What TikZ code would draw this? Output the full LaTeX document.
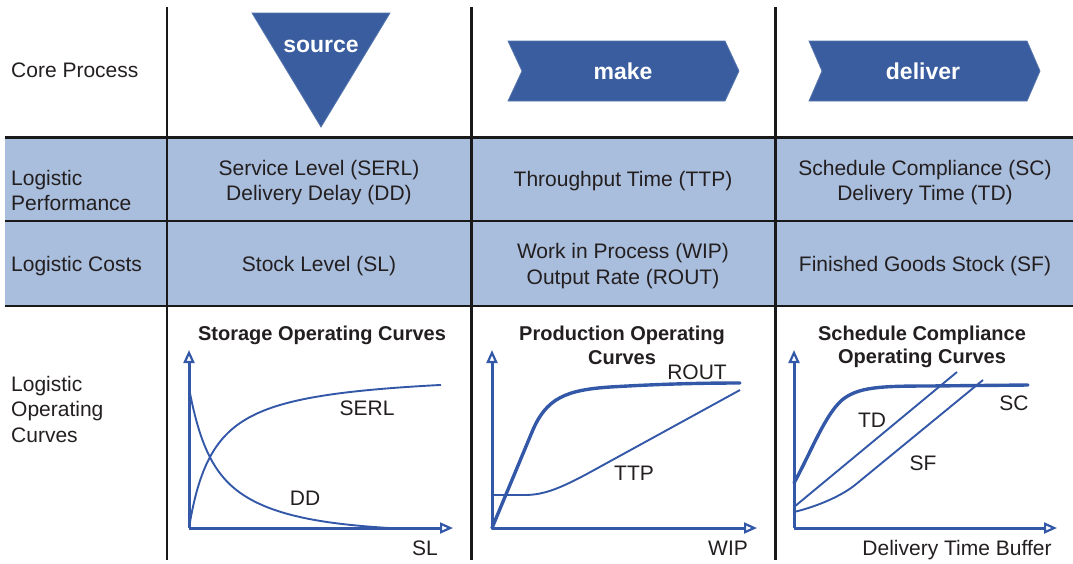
\documentclass[tikz,border=0pt]{standalone}
\usepackage{fontspec}
\setmainfont{Liberation Sans}
\usetikzlibrary{arrows.meta}
\definecolor{ink}{RGB}{35,31,32}
\definecolor{band}{RGB}{169,189,220}
\definecolor{procblue}{RGB}{57,93,158}
\definecolor{curveblue}{RGB}{52,88,168}

\begin{document}
\begin{tikzpicture}[x=1pt,y=-1pt,
  rule/.style={line width=2.4pt, draw=black!90},
  lbl/.style={font=\fontsize{21}{25}\selectfont, text=ink, inner sep=0pt, anchor=base},
  lblw/.style={lbl, anchor=base west},
  ttl/.style={font=\bfseries\fontsize{20}{24}\selectfont, text=ink, inner sep=0pt, anchor=base},
  proc/.style={fill=procblue, draw=procblue!85!white, line width=0.8pt},
  proctxt/.style={font=\bfseries\fontsize{23}{27}\selectfont, text=white, inner sep=0pt, anchor=base},
  axis/.style={draw=curveblue, line width=3pt, -{Triangle[open,length=13pt,width=11pt,line width=2.2pt]}},
  curvethin/.style={draw=curveblue, line width=1.9pt},
  curvethick/.style={draw=curveblue, line width=3.4pt, line cap=round},
]
\useasboundingbox (0,0) rectangle (1073,563);

% shaded rows for performance and costs
\fill[band] (5,138) rectangle (1073,306);

% table rules
\draw[rule] (5,137.5) -- (1073,137.5);
\draw[rule] (5,221) -- (1073,221);
\draw[rule] (5,306) -- (1073,306);
\foreach \cx in {167,471.5,775.5} \draw[rule] (\cx,7) -- (\cx,560);

% core process symbols
\path[proc] (252,13) -- (390,13) -- (321,127) -- cycle;
\node[proctxt] (src) at (321,52) {source};
\path[proc] (508,41) -- (725,41) -- (739,71) -- (725,101) -- (508,101) -- (522,71) -- cycle;
\node[proctxt] (mk) at (623,79) {make};
\path[proc] (809,41) -- (1027,41) -- (1040,71) -- (1027,101) -- (809,101) -- (822,71) -- cycle;
\node[proctxt] (dl) at (923,79) {deliver};

% row headings
\node[lblw] (core) at (11,77) {Core Process};
\node[lblw] (perfa) at (11,185) {Logistic};
\node[lblw] (perfb) at (11,210.5) {Performance};
\node[lblw] (cost) at (11,271.5) {Logistic Costs};
\node[lblw] (loca) at (11,391) {Logistic};
\node[lblw] (locb) at (11,416.5) {Operating};
\node[lblw] (locc) at (11,442.5) {Curves};

% table entries
\node[lbl] (serl) at (319,175) {Service Level (SERL)};
\node[lbl] (dd) at (319,200) {Delivery Delay (DD)};
\node[lbl] (sl) at (319,271.5) {Stock Level (SL)};
\node[lbl] (ttp) at (623,186.5) {Throughput Time (TTP)};
\node[lbl] (wip) at (623,258.5) {Work in Process (WIP)};
\node[lbl] (rout) at (623,284.5) {Output Rate (ROUT)};
\node[lbl] (sc) at (925,175) {Schedule Compliance (SC)};
\node[lbl] (td) at (925,200) {Delivery Time (TD)};
\node[lbl] (sf) at (925,271.5) {Finished Goods Stock (SF)};

% ---- storage operating curves
\node[ttl] (t1) at (322,340) {Storage Operating Curves};
\coordinate (o1) at (189,528);
\coordinate (y1) at (189,350);
\coordinate (x1) at (453,528);
% service level: saturating rise
\draw[curvethin] plot[domain=0:252, samples=120, smooth] ({189+\x},{528-157.6*(\x/(\x+25.6))});
% delivery delay: decay that settles onto the axis
\draw[curvethin] plot[domain=0:200, samples=120, smooth] ({189+\x},{528-140*(0.4316*exp(-\x/15)+0.5684*exp(-\x/60)-0.0203*\x/200)}) -- (430,528);
\draw[axis] (o1) -- (y1);
\draw[axis] (o1) -- (x1);
\node[lbl] (l1a) at (367,415.5) {SERL};
\node[lbl] (l1b) at (305,505.5) {DD};
\node[lbl] (l1c) at (425,555.5) {SL};

% ---- production operating curves
\node[ttl] (t2a) at (622,340) {Production Operating};
\node[ttl] (t2b) at (622,364) {Curves};
\coordinate (o2) at (492,528);
\coordinate (y2) at (492,350);
\coordinate (x2) at (757,528);
\draw[curvethick] (o2) -- (532,432) .. controls (546,398) and (566,390) .. (610,387) .. controls (660,384) and (700,383) .. (740,383);
\draw[curvethin] (492,495) -- (525,495) .. controls (545,495) and (562,487) .. (585,475) -- (740,390);
\draw[axis] (o2) -- (y2);
\draw[axis] (o2) -- (x2);
\node[lbl] (l2a) at (697,379) {ROUT};
\node[lbl] (l2b) at (634,480.5) {TTP};
\node[lbl] (l2c) at (728,555.5) {WIP};

% ---- schedule compliance operating curves
\node[ttl] (t3a) at (922,340.5) {Schedule Compliance};
\node[ttl] (t3b) at (922,363.5) {Operating Curves};
\coordinate (o3) at (794,528);
\coordinate (y3) at (794,350);
\coordinate (x3) at (1057,528);
\draw[curvethick] (794,483) .. controls (812,450) and (825,415) .. (842,400) .. controls (858,387) and (880,386) .. (930,386) -- (1028,385);
\draw[curvethin] (794,507) -- (957,372);
\draw[curvethin] (794,512) .. controls (815,507) and (840,497) .. (855,485) -- (983,380);
\draw[axis] (o3) -- (y3);
\draw[axis] (o3) -- (x3);
\node[lbl] (l3a) at (872,427.5) {TD};
\node[lbl] (l3b) at (923,470.5) {SF};
\node[lbl] (l3c) at (1014,410.5) {SC};
\node[lbl] (l3d) at (957,555.5) {Delivery Time Buffer};
\end{tikzpicture}
\end{document}
